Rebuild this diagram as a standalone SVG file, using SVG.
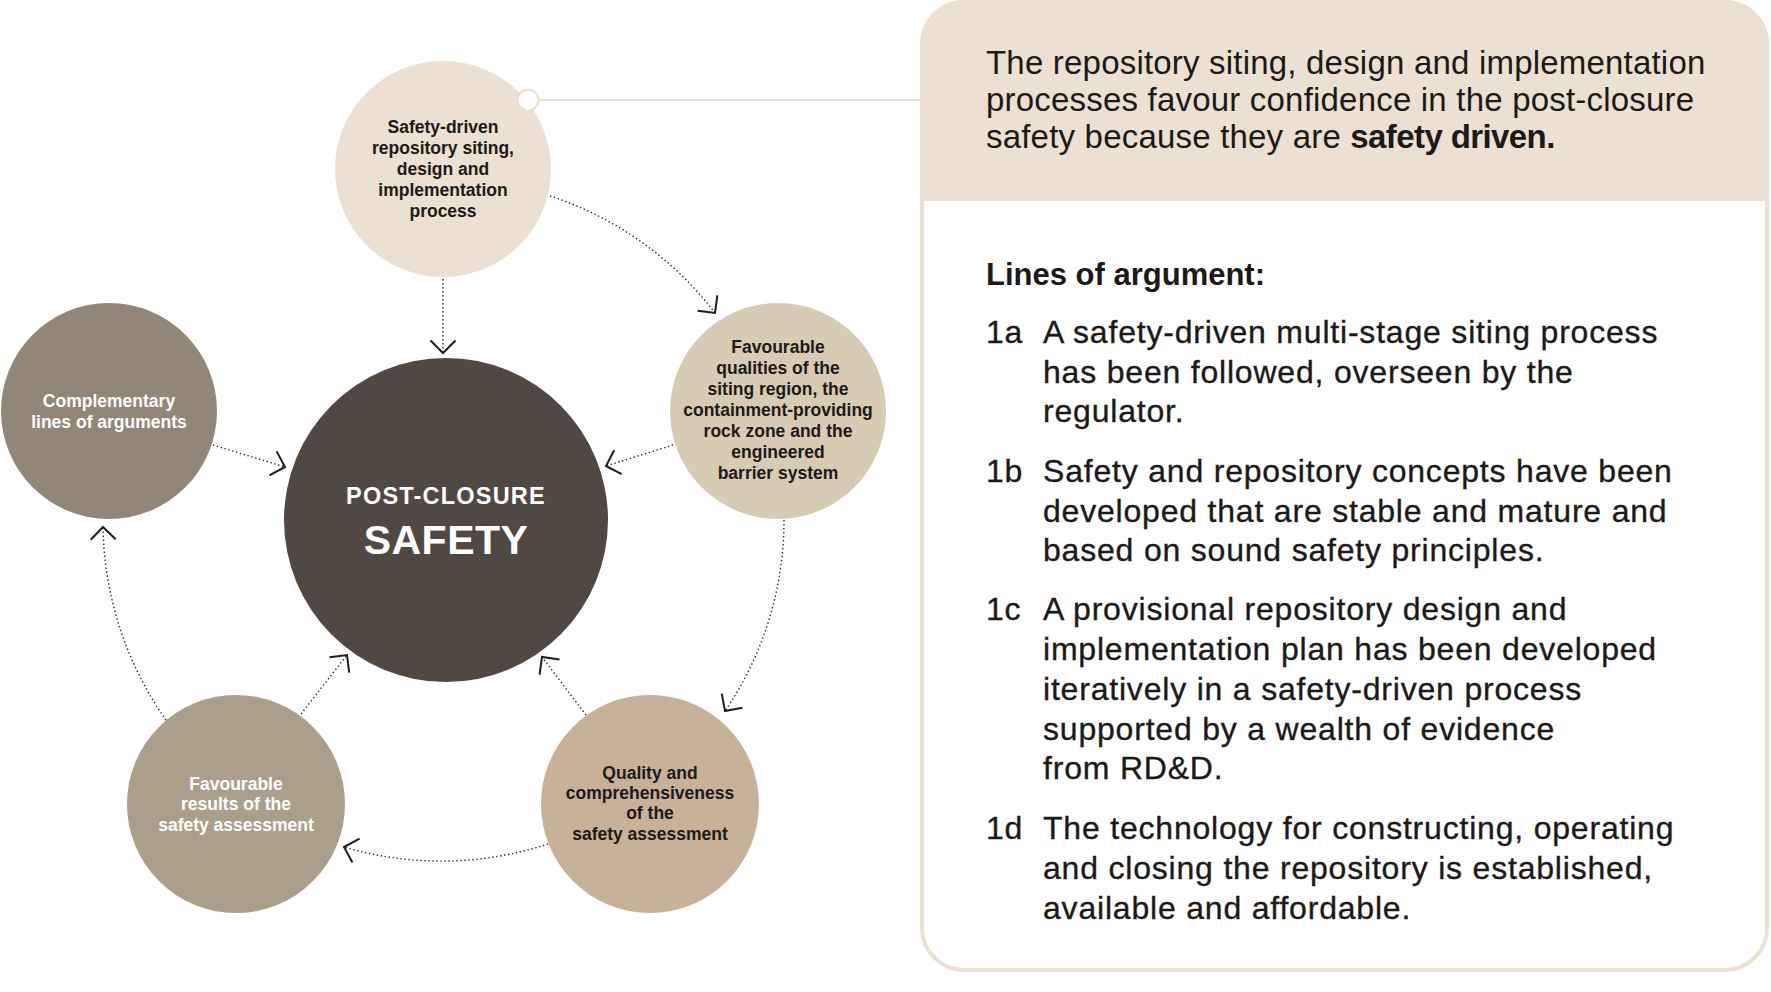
<svg xmlns="http://www.w3.org/2000/svg" width="1771" height="992" viewBox="0 0 1771 992">
<style>
text{font-family:"Liberation Sans",Arial,sans-serif}
.ct{font-size:17.5px;font-weight:bold;text-anchor:middle}
.dk{fill:#1c1a18}
.wt{fill:#ffffff}
.hd{font-size:33px;fill:#1c1a18;letter-spacing:0.2px}
.it{font-size:32px;fill:#1c1a18;letter-spacing:0.8px;stroke:#1c1a18;stroke-width:0.35px}
.conn{fill:none;stroke:#2a2624;stroke-width:1.4;stroke-dasharray:1.4 2.6;marker-end:url(#chev)}
</style>
<defs>
<marker id="chev" markerUnits="userSpaceOnUse" viewBox="-16 -16 32 32" markerWidth="32" markerHeight="32" refX="0" refY="0" orient="auto" overflow="visible">
<path d="M -12.5 -12.5 L 0 0 L -12.5 12.5" fill="none" stroke="#1f1c1a" stroke-width="2"/>
</marker>
</defs>
<rect width="1771" height="992" fill="#ffffff"/>

<g id="panel">
<rect x="922" y="2" width="845" height="968" rx="42" fill="#ffffff" stroke="#ebe0d1" stroke-width="4"/>
<path d="M 920 201 V 44 A 44 44 0 0 1 964 0 H 1725 A 44 44 0 0 1 1769 44 V 201 Z" fill="#ebe0d1"/>
<text class="hd" x="986" y="74">The repository siting, design and implementation</text>
<text class="hd" x="986" y="111">processes favour confidence in the post-closure</text>
<text class="hd" x="986" y="148">safety because they are <tspan font-weight="bold" letter-spacing="-0.6">safety driven.</tspan></text>
<text x="986" y="285" font-size="31" font-weight="bold" fill="#1c1a18">Lines of argument:</text>
<g>
<text class="it" x="986" y="343">1a</text>
<text class="it" x="1043" y="343">A safety-driven multi-stage siting process</text>
<text class="it" x="1043" y="383">has been followed, overseen by the</text>
<text class="it" x="1043" y="422">regulator.</text>
<text class="it" x="986" y="482">1b</text>
<text class="it" x="1043" y="482">Safety and repository concepts have been</text>
<text class="it" x="1043" y="522">developed that are stable and mature and</text>
<text class="it" x="1043" y="561">based on sound safety principles.</text>
<text class="it" x="986" y="620">1c</text>
<text class="it" x="1043" y="620">A provisional repository design and</text>
<text class="it" x="1043" y="660">implementation plan has been developed</text>
<text class="it" x="1043" y="700">iteratively in a safety-driven process</text>
<text class="it" x="1043" y="740">supported by a wealth of evidence</text>
<text class="it" x="1043" y="779">from RD&amp;D.</text>
<text class="it" x="986" y="839">1d</text>
<text class="it" x="1043" y="839">The technology for constructing, operating</text>
<text class="it" x="1043" y="879">and closing the repository is established,</text>
<text class="it" x="1043" y="919">available and affordable.</text>
</g>
</g>

<g id="callout-link">
<line x1="540" y1="100" x2="922" y2="100" stroke="#ebe0d1" stroke-width="2"/>
</g>

<g id="node-top">
<circle cx="443" cy="169" r="108" fill="#ebe0d1"/>
<text class="ct dk" x="443" y="133">Safety-driven</text>
<text class="ct dk" x="443" y="154">repository siting,</text>
<text class="ct dk" x="443" y="175">design and</text>
<text class="ct dk" x="443" y="196">implementation</text>
<text class="ct dk" x="443" y="217">process</text>
<circle cx="528" cy="100" r="10.5" fill="#ffffff" stroke="#ebe0d1" stroke-width="2.2"/>
</g>

<g id="node-center">
<circle cx="446" cy="520" r="162" fill="#514843"/>
<text x="446" y="504" font-size="23.5" font-weight="bold" fill="#ffffff" text-anchor="middle" letter-spacing="1.2">POST-CLOSURE</text>
<text x="446" y="554" font-size="41" font-weight="bold" fill="#ffffff" text-anchor="middle" letter-spacing="0.5">SAFETY</text>
</g>

<g id="node-left">
<circle cx="109" cy="411" r="108" fill="#918677"/>
<text class="ct wt" x="109" y="407">Complementary</text>
<text class="ct wt" x="109" y="428">lines of arguments</text>
</g>

<g id="node-right">
<circle cx="778" cy="411" r="108" fill="#d8cbb4"/>
<text class="ct dk" x="778" y="353">Favourable</text>
<text class="ct dk" x="778" y="374">qualities of the</text>
<text class="ct dk" x="778" y="395">siting region, the</text>
<text class="ct dk" x="778" y="416">containment-providing</text>
<text class="ct dk" x="778" y="437">rock zone and the</text>
<text class="ct dk" x="778" y="458">engineered</text>
<text class="ct dk" x="778" y="479">barrier system</text>
</g>

<g id="node-bottom-left">
<circle cx="236" cy="804" r="109" fill="#ab9f8b"/>
<text class="ct wt" x="236" y="790">Favourable</text>
<text class="ct wt" x="236" y="810">results of the</text>
<text class="ct wt" x="236" y="831">safety assessment</text>
</g>

<g id="node-bottom-right">
<circle cx="650" cy="804" r="109" fill="#c8b199"/>
<text class="ct dk" x="650" y="779">Quality and</text>
<text class="ct dk" x="650" y="799">comprehensiveness</text>
<text class="ct dk" x="650" y="819">of the</text>
<text class="ct dk" x="650" y="840">safety assessment</text>
</g>

<g id="connectors">
<path class="conn" d="M 443 279 L 443 353"/>
<path class="conn" d="M 550 196 A 340 340 0 0 1 715 313"/>
<path class="conn" d="M 784 520 A 338 338 0 0 1 725 711"/>
<path class="conn" d="M 548 844 A 342 342 0 0 1 344 847"/>
<path class="conn" d="M 166 720 A 344 344 0 0 1 103 527"/>
<path class="conn" d="M 213 445 L 285 467"/>
<path class="conn" d="M 673 445 L 606 466"/>
<path class="conn" d="M 301 714 L 347 655"/>
<path class="conn" d="M 586 715 L 542 657"/>
</g>
</svg>
